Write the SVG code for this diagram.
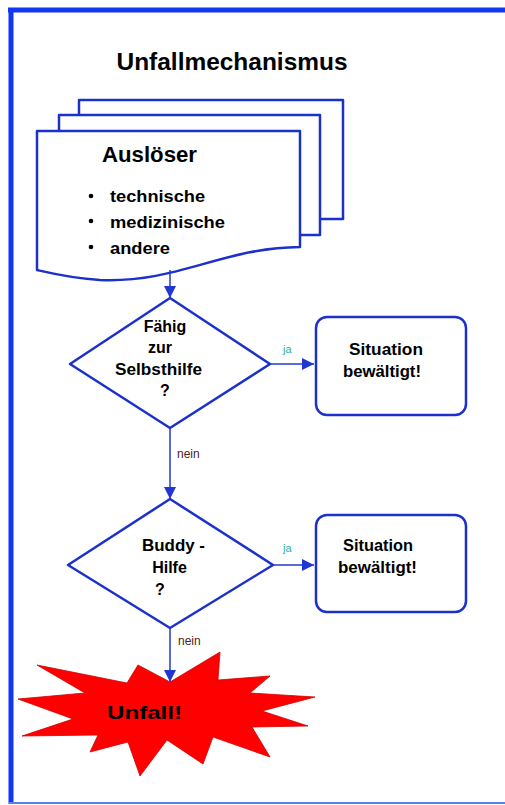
<svg xmlns="http://www.w3.org/2000/svg" width="505" height="805" viewBox="0 0 505 805">
<style>
.ln{fill:#fff;stroke:#1c30cc;stroke-width:2.5;stroke-linejoin:round}
.b{font-family:"Liberation Sans",Arial,sans-serif;font-weight:bold;fill:#000}
.c{stroke:#2038d0;stroke-width:1.5;fill:none}
.ja{font-family:"Liberation Sans",Arial,sans-serif;font-size:11px;fill:#28b0a0}
.nein{font-family:"Liberation Sans",Arial,sans-serif;font-size:12px;fill:#4a2424}
</style>
<defs>
<marker id="ah" markerUnits="userSpaceOnUse" markerWidth="12" markerHeight="12" viewBox="0 0 12 12" refX="12" refY="6" orient="auto">
<path d="M0,0 L12,6 L0,12 Z" fill="#2038d0"/>
</marker>
</defs>
<rect width="505" height="805" fill="#fff"/>
<g id="frame">
<line x1="8" y1="10" x2="505" y2="10" stroke="#1038ee" stroke-width="5"/>
<line x1="11" y1="8" x2="11" y2="804" stroke="#1038ee" stroke-width="5"/>
<line x1="9" y1="803" x2="505" y2="803" stroke="#5a80f0" stroke-width="2"/>
</g>
<g id="title">
<text class="b" x="232" y="70" font-size="24" text-anchor="middle" textLength="231" lengthAdjust="spacingAndGlyphs">Unfallmechanismus</text>
</g>
<g id="ausloeser">
<path class="ln" d="M79,131 V100 H343 V219 H320"/>
<path class="ln" d="M59,131 V115 H320 V235 H300"/>
<path class="ln" d="M37,131 H300 V247 C220,248 180,283 100,280 C70,278 50,273 37,270 Z"/>
<text class="b" x="102" y="162" font-size="22" textLength="95" lengthAdjust="spacingAndGlyphs">Auslöser</text>
<circle cx="91" cy="196" r="2.3" fill="#000"/>
<circle cx="91" cy="221" r="2.3" fill="#000"/>
<circle cx="91" cy="247" r="2.3" fill="#000"/>
<text class="b" x="110" y="202" font-size="16" textLength="95" lengthAdjust="spacingAndGlyphs">technische</text>
<text class="b" x="110" y="228" font-size="16" textLength="115" lengthAdjust="spacingAndGlyphs">medizinische</text>
<text class="b" x="110" y="254" font-size="16" textLength="60" lengthAdjust="spacingAndGlyphs">andere</text>
</g>
<g id="d1">
<path class="ln" d="M170,298 L270,364 L170,428 L70,364 Z" stroke-width="3"/>
<text class="b" x="165" y="332" font-size="16" text-anchor="middle">Fähig</text>
<text class="b" x="160" y="353" font-size="16" text-anchor="middle">zur</text>
<text class="b" x="158.5" y="375" font-size="16" text-anchor="middle" textLength="87" lengthAdjust="spacingAndGlyphs">Selbsthilfe</text>
<text class="b" x="165" y="396" font-size="16" text-anchor="middle">?</text>
</g>
<g id="box1">
<rect class="ln" x="316" y="317" width="150" height="98" rx="11" stroke-width="3"/>
<text class="b" x="386" y="355" font-size="16" text-anchor="middle" textLength="74" lengthAdjust="spacingAndGlyphs">Situation</text>
<text class="b" x="382" y="377" font-size="16" text-anchor="middle" textLength="78" lengthAdjust="spacingAndGlyphs">bewältigt!</text>
</g>
<g id="d2">
<path class="ln" d="M170,499 L273,565 L170,628 L68,565 Z" stroke-width="3"/>
<text class="b" x="173.5" y="551" font-size="16" text-anchor="middle" textLength="63" lengthAdjust="spacingAndGlyphs">Buddy -</text>
<text class="b" x="169.5" y="573" font-size="16" text-anchor="middle">Hilfe</text>
<text class="b" x="160" y="595" font-size="16" text-anchor="middle">?</text>
</g>
<g id="box2">
<rect class="ln" x="316" y="515" width="150" height="97" rx="11" stroke-width="3"/>
<text class="b" x="378" y="551" font-size="16" text-anchor="middle" textLength="70" lengthAdjust="spacingAndGlyphs">Situation</text>
<text class="b" x="377.5" y="573" font-size="16" text-anchor="middle" textLength="79" lengthAdjust="spacingAndGlyphs">bewältigt!</text>
</g>
<g id="unfall">
<polygon fill="#ff0000" stroke="#d00000" stroke-width="0.8" points="37,665 127,683 138,665 170,682 220,652 218,680 270,676 250,693 315,697 262,711 308,726 252,727 270,757 213,737 203,764 167,740 140,776 128,742 90,752 98,735 22,736 73,719 18,699 85,693"/>
<text class="b" x="107" y="719" font-size="19" textLength="75" lengthAdjust="spacingAndGlyphs">Unfall!</text>
</g>
<g id="connectors">
<line class="c" x1="170" y1="270" x2="170" y2="298" marker-end="url(#ah)"/>
<line class="c" x1="270" y1="364" x2="314" y2="364" marker-end="url(#ah)"/>
<line class="c" x1="170" y1="428" x2="170" y2="499" marker-end="url(#ah)"/>
<line class="c" x1="273" y1="565" x2="314" y2="565" marker-end="url(#ah)"/>
<line class="c" x1="170" y1="628" x2="170" y2="682" marker-end="url(#ah)"/>
<text class="ja" x="283" y="353">ja</text>
<text class="ja" x="283" y="552">ja</text>
<text class="nein" x="177" y="458">nein</text>
<text class="nein" x="178" y="645">nein</text>
</g>
</svg>
